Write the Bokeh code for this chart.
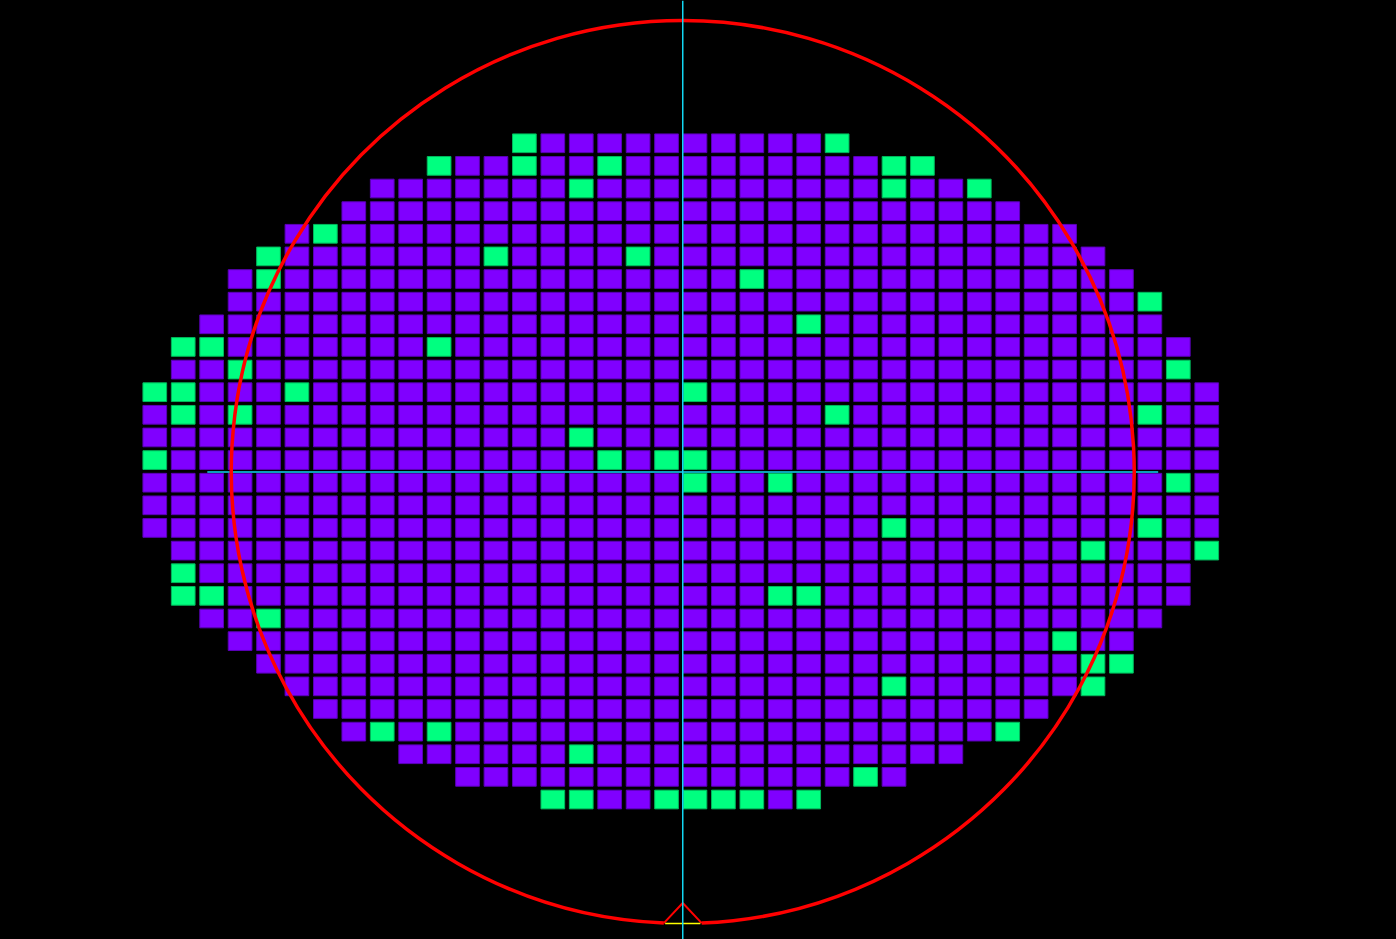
import math
from bokeh.plotting import figure
from bokeh.models import Range1d, Span, ColumnDataSource
from bokeh.embed import file_html
from bokeh.resources import INLINE

# ---- wafer die map data (row 0 = top, column 0 = left) ----
row_index     = list(range(30))
row_first_col = [13, 10, 8, 7, 5, 4, 3, 3, 2, 1, 1, 0, 0, 0, 0, 0, 0, 0, 1, 1,
                 1, 2, 3, 4, 5, 6, 7, 9, 11, 14]
row_last_col  = [24, 27, 29, 30, 32, 33, 34, 35, 35, 36, 36, 37, 37, 37, 37, 37, 37, 37, 37, 36,
                 36, 35, 34, 34, 33, 31, 30, 28, 26, 23]
# failing dies (green) per row
fail_cols_by_row = [
    [13, 24], [10, 13, 16, 26, 27], [15, 26, 29], [], [6], [4, 12, 17], [4, 21], [35], [23],
    [1, 2, 10], [3, 36], [0, 1, 5, 19], [1, 3, 24, 35], [15], [0, 16, 18, 19], [19, 22, 36],
    [], [26, 35], [33, 37], [1], [1, 2, 22, 23], [4], [32], [33, 34], [26, 33], [],
    [8, 10, 30], [15], [25], [14, 15, 18, 19, 20, 21, 23],
]
bin_labels = ["pass", "fail"]

# ---- geometry (mm) ----
WAFER_R = 100.0
PX_PER_MM = 4.515
PITCH_X = 6.297
PITCH_Y = 5.012
COL_CENTER = 18.57
ROW_CENTER = 14.527
DIE_W = 23.7 / PX_PER_MM
DIE_H = 18.7 / PX_PER_MM
CROSS_HALF = 105.3
NOTCH_HALF = 4.19
NOTCH_DEPTH = 4.55

W, H = 1396, 939
x_lo = -682.25 / PX_PER_MM
y_hi = 471.5 / PX_PER_MM

xs, ys, fills, lines = [], [], [], []
for r, c0, c1, fails in zip(row_index, row_first_col, row_last_col, fail_cols_by_row):
    for c in range(c0, c1 + 1):
        xs.append((c - COL_CENTER) * PITCH_X)
        ys.append((ROW_CENTER - r) * PITCH_Y)
        if c in fails:
            fills.append("#00FF80"); lines.append("#00B85C")
        else:
            fills.append("#8000FF"); lines.append("#5A00B8")

src = ColumnDataSource(dict(x=xs, y=ys, fill=fills, line=lines))

p = figure(width=W, height=H, output_backend="svg", toolbar_location=None,
           x_range=Range1d(x_lo, x_lo + W / PX_PER_MM),
           y_range=Range1d(y_hi - H / PX_PER_MM, y_hi),
           min_border=0, background_fill_color="black", border_fill_color="black",
           outline_line_color=None)
p.axis.visible = False
p.grid.visible = False

p.rect(x="x", y="y", width=DIE_W, height=DIE_H, fill_color="fill", line_color="line",
       line_width=1, source=src)

cyan = "#12D6F2"
p.add_layout(Span(location=0, dimension="height", line_color=cyan, line_width=1.5))
p.segment(x0=[-CROSS_HALF], y0=[0], x1=[CROSS_HALF], y1=[0], line_color=cyan, line_width=1.5)

gap = math.asin(NOTCH_HALF / WAFER_R)
p.arc(x=[0], y=[0], radius=WAFER_R, start_angle=-math.pi / 2 + gap,
      end_angle=3 * math.pi / 2 - gap, direction="anticlock",
      line_color="#FF0000", line_width=3.5)
base_y = -math.sqrt(WAFER_R ** 2 - NOTCH_HALF ** 2)
p.line([-NOTCH_HALF, 0, NOTCH_HALF], [base_y, -WAFER_R + NOTCH_DEPTH, base_y],
       line_color="#FF0000", line_width=2)
p.segment(x0=[-NOTCH_HALF * 0.93], y0=[base_y - 0.1], x1=[NOTCH_HALF * 0.93], y1=[base_y - 0.1],
          line_color="#FFFF00", line_width=1.5)

html = file_html(p, INLINE)
html = html.replace("<head>", "<head><style>html,body{margin:0;padding:0;background:#000;overflow:hidden;}</style>", 1)
open("out.html", "w").write(html)
